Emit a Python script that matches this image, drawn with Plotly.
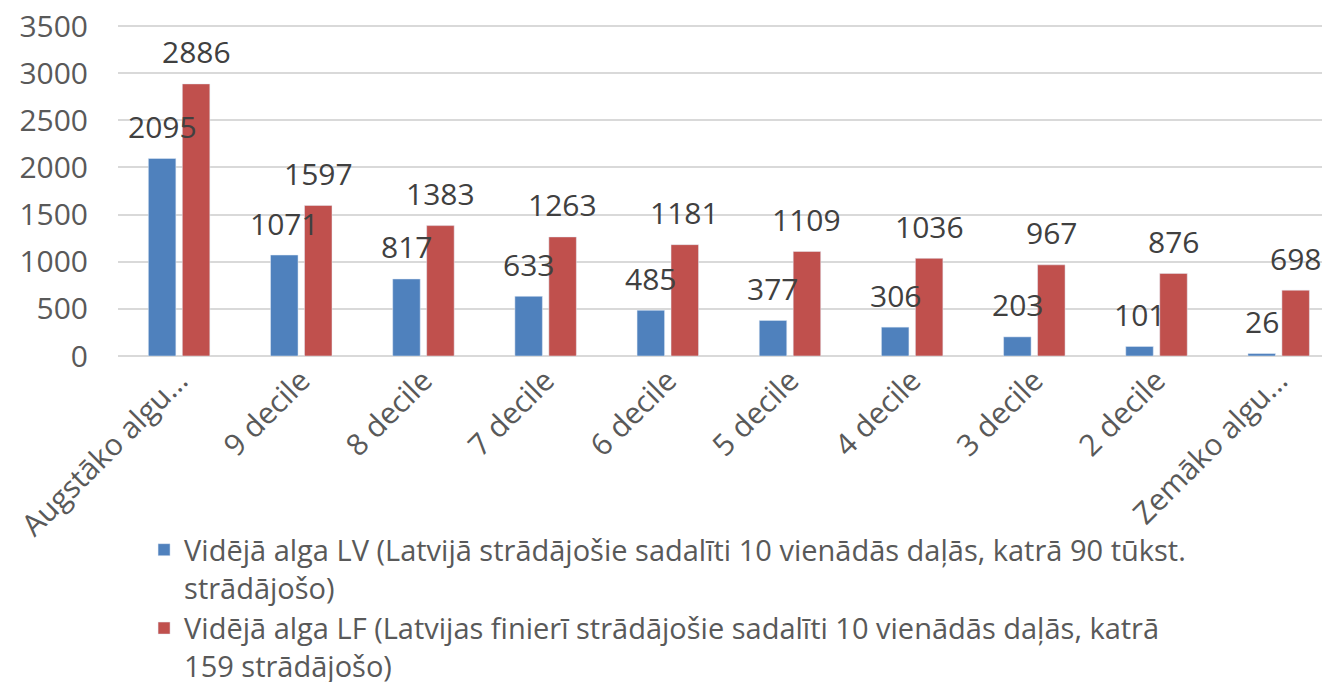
import plotly.graph_objects as go

categories = ["Augstāko algu...", "9 decile", "8 decile", "7 decile", "6 decile",
              "5 decile", "4 decile", "3 decile", "2 decile", "Zemāko algu..."]
lv_values = [2095, 1071, 817, 633, 485, 377, 306, 203, 101, 26]
lf_values = [2886, 1597, 1383, 1263, 1181, 1109, 1036, 967, 876, 698]
lv_name = "Vidējā alga LV (Latvijā strādājošie sadalīti 10 vienādās daļās, katrā 90 tūkst.<br>strādājošo)"
lf_name = "Vidējā alga LF (Latvijas finierī strādājošie sadalīti 10 vienādās daļās, katrā<br>159 strādājošo)"
y_ticks = [0, 500, 1000, 1500, 2000, 2500, 3000, 3500]

FONT = "Open Sans"
TXT = "#595959"
BLUE = "#4F81BD"
RED = "#C0504D"

fig = go.Figure()
fig.add_trace(go.Bar(x=categories, y=lv_values, name=lv_name, marker_color=BLUE))
fig.add_trace(go.Bar(x=categories, y=lf_values, name=lf_name, marker_color=RED))

annotations = []
for c, v in zip(categories, lv_values):
    annotations.append(dict(x=c, y=v, text=str(v), showarrow=False, xshift=-17, yshift=32,
                            font=dict(family=FONT, size=30, color="#404040")))
for c, v in zip(categories, lf_values):
    annotations.append(dict(x=c, y=v, text=str(v), showarrow=False, xshift=17, yshift=32,
                            font=dict(family=FONT, size=30, color="#404040")))

# plot area 332 px tall so that the 3500 gridline sits 2 px inside the top edge
fig.update_layout(
    width=1322, height=674,
    margin=dict(l=110, r=0, t=16, b=326, autoexpand=False),
    plot_bgcolor="white", paper_bgcolor="white",
    barmode="group", bargap=0.444, bargroupgap=0.19,
    font=dict(family=FONT, color=TXT),
    annotations=annotations,
    showlegend=True,
    legend=dict(orientation="v", x=0.0215, xanchor="left", y=-0.507, yanchor="top",
                font=dict(family=FONT, size=29, color=TXT), valign="top",
                tracegroupgap=0, bgcolor="rgba(0,0,0,0)"),
    xaxis=dict(tickangle=-45, tickfont=dict(family=FONT, size=30, color=TXT),
               range=[-0.5, 9.42], automargin=False,
               showgrid=False, showline=False, ticks="", zeroline=False),
    yaxis=dict(range=[0, 3521.2], tickvals=y_ticks, tickfont=dict(family=FONT, size=30, color=TXT),
               automargin=False, ticklabeloverflow="allow",
               showgrid=True, gridcolor="#D9D9D9", gridwidth=2, zeroline=True,
               zerolinecolor="#D9D9D9", zerolinewidth=2, showline=False, ticks="",
               ticklabelstandoff=29),
)

fig.write_html("out.html")
